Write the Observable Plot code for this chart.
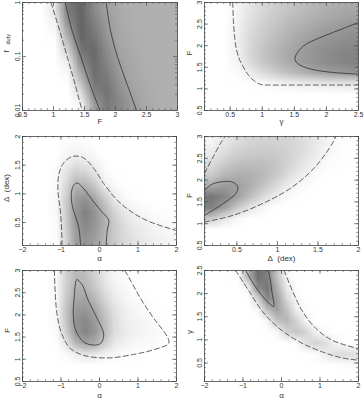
<!DOCTYPE html>
<html><head><meta charset="utf-8">
<script src="https://cdn.jsdelivr.net/npm/d3@7"></script>
<script src="https://cdn.jsdelivr.net/npm/@observablehq/plot@0.6"></script>
<style>
html,body{margin:0;padding:0;background:#fff;}
#chart{position:relative;width:364px;height:400px;overflow:hidden;}
#chart svg{position:absolute;}
</style></head><body><div id="chart"></div>
<script>
// ---------- tick labels ----------
const fTicks = [0.5, 1, 1.5, 2, 2.5, 3];
const gammaTicks = [0.5, 1, 1.5, 2, 2.5];
const alphaTicks = [-2, -1, 0, 1, 2];
const deltaTicks = [0.5, 1, 1.5, 2];
const fdutyTicks = [0.01, 0.1, 1];
const fMinor = d3.range(5, 31).map(i => i / 10);
const gammaMinor = d3.range(1, 26).map(i => i / 10);
const alphaMinor = d3.range(-10, 11).map(i => i / 5);
const deltaMinor = d3.range(1, 21).map(i => i / 10);
const fdutyMinor = [0.02,0.03,0.04,0.05,0.06,0.07,0.08,0.09,0.2,0.3,0.4,0.5,0.6,0.7,0.8,0.9];

// ---------- likelihood grids (row-major, top row first) ----------
// panel 1: F (12 cols, 0.5..3) x f_duty (8 rows, log 1..0.01)
const p1Density = [
 0,0,0.15,0.76,0.88,0.67,0.53,0.48,0.46,0.45,0.45,0.45,
 0,0,0.08,0.65,0.89,0.73,0.57,0.49,0.46,0.45,0.45,0.45,
 0,0,0.02,0.47,0.88,0.79,0.60,0.50,0.47,0.45,0.45,0.45,
 0,0,0,0.27,0.79,0.85,0.66,0.52,0.48,0.46,0.45,0.45,
 0,0,0,0.10,0.64,0.84,0.70,0.55,0.49,0.46,0.45,0.45,
 0,0,0,0.02,0.44,0.82,0.76,0.58,0.50,0.47,0.45,0.45,
 0,0,0,0,0.22,0.72,0.80,0.64,0.53,0.48,0.46,0.45,
 0,0,0,0,0.06,0.56,0.76,0.68,0.56,0.49,0.46,0.45
];
// panel 2: gamma (12 cols, 0.1..2.5) x F (10 rows, 3..0.5)
const p2Density = [
 0,0,0.05,0.15,0.22,0.28,0.33,0.38,0.42,0.45,0.48,0.50,
 0,0,0.06,0.17,0.25,0.31,0.37,0.42,0.46,0.50,0.53,0.55,
 0,0,0.07,0.20,0.28,0.35,0.41,0.47,0.52,0.56,0.59,0.61,
 0,0,0.08,0.22,0.31,0.39,0.46,0.52,0.57,0.61,0.64,0.66,
 0,0,0.08,0.23,0.33,0.41,0.49,0.56,0.61,0.65,0.68,0.70,
 0,0,0.06,0.20,0.31,0.40,0.48,0.56,0.61,0.66,0.69,0.71,
 0,0,0.02,0.10,0.20,0.28,0.36,0.43,0.49,0.54,0.57,0.60,
 0,0,0,0,0.02,0.05,0.07,0.09,0.10,0.12,0.13,0.14,
 0,0,0,0,0,0,0,0,0,0,0,0,
 0,0,0,0,0,0,0,0,0,0,0,0
];
// panel 3: alpha (16 cols, -2..2) x Delta (8 rows, 2..0.1)
const p3Density = [
 0,0,0,0,0.02,0.03,0.02,0,0,0,0,0,0,0,0,0,
 0,0,0,0,0.06,0.10,0.08,0.04,0,0,0,0,0,0,0,0,
 0,0,0,0.02,0.15,0.25,0.22,0.14,0.03,0,0,0,0,0,0,0,
 0,0,0,0.03,0.22,0.42,0.42,0.30,0.10,0.03,0,0,0,0,0,0,
 0,0,0,0.04,0.28,0.55,0.62,0.50,0.30,0.12,0.04,0.01,0,0,0,0,
 0,0,0,0.04,0.30,0.60,0.72,0.62,0.42,0.25,0.13,0.07,0.04,0.02,0.01,0,
 0,0,0,0.03,0.28,0.58,0.68,0.60,0.45,0.30,0.20,0.13,0.09,0.06,0.04,0.03,
 0,0,0,0.02,0.25,0.55,0.62,0.55,0.42,0.30,0.22,0.16,0.12,0.09,0.07,0.05
];
// panel 4: Delta (12 cols, 0.1..2) x F (10 rows, 3..0.5)
const p4Density = [
 0.06,0.13,0.20,0.24,0.26,0.26,0.24,0.20,0.14,0.07,0.02,0,
 0.12,0.20,0.27,0.30,0.31,0.30,0.26,0.20,0.12,0.05,0.01,0,
 0.20,0.30,0.36,0.38,0.37,0.33,0.25,0.16,0.08,0.02,0,0,
 0.30,0.42,0.46,0.45,0.40,0.32,0.20,0.10,0.03,0,0,0,
 0.50,0.58,0.55,0.47,0.35,0.22,0.10,0.03,0,0,0,0,
 0.78,0.70,0.55,0.38,0.22,0.10,0.02,0,0,0,0,0,
 0.72,0.55,0.32,0.15,0.05,0,0,0,0,0,0,0,
 0.30,0.15,0.04,0,0,0,0,0,0,0,0,0,
 0,0,0,0,0,0,0,0,0,0,0,0,
 0,0,0,0,0,0,0,0,0,0,0,0
];
// panel 5: alpha (16 cols, -2..2) x F (10 rows, 3..0.5)
const p5Density = [
 0,0,0,0.03,0.25,0.40,0.38,0.26,0.13,0.05,0.02,0,0,0,0,0,
 0,0,0,0.04,0.27,0.44,0.43,0.31,0.17,0.08,0.04,0.02,0,0,0,0,
 0,0,0,0.04,0.30,0.50,0.52,0.40,0.24,0.12,0.06,0.03,0.01,0,0,0,
 0,0,0,0.04,0.33,0.57,0.60,0.50,0.32,0.17,0.09,0.05,0.03,0.01,0,0,
 0,0,0,0.04,0.33,0.62,0.68,0.58,0.38,0.20,0.11,0.07,0.05,0.03,0.01,0,
 0,0,0,0.03,0.28,0.60,0.70,0.60,0.40,0.20,0.12,0.08,0.06,0.04,0.02,0,
 0,0,0,0.01,0.15,0.42,0.55,0.48,0.30,0.14,0.08,0.05,0.04,0.03,0.01,0,
 0,0,0,0,0.03,0.10,0.15,0.14,0.08,0.04,0.02,0.01,0,0,0,0,
 0,0,0,0,0,0,0,0,0,0,0,0,0,0,0,0,
 0,0,0,0,0,0,0,0,0,0,0,0,0,0,0,0
];
// panel 6: alpha (16 cols, -2..2) x gamma (10 rows, 2.5..0.1)
const p6Density = [
 0,0,0,0.02,0.45,0.82,0.72,0.35,0.05,0,0,0,0,0,0,0,
 0,0,0,0,0.08,0.68,0.78,0.45,0.12,0.01,0,0,0,0,0,0,
 0,0,0,0,0,0.25,0.70,0.55,0.22,0.03,0,0,0,0,0,0,
 0,0,0,0,0,0.04,0.38,0.55,0.35,0.10,0.01,0,0,0,0,0,
 0,0,0,0,0,0,0.05,0.35,0.42,0.25,0.06,0,0,0,0,0,
 0,0,0,0,0,0,0,0.04,0.25,0.33,0.25,0.08,0.01,0,0,0,
 0,0,0,0,0,0,0,0,0,0.02,0.18,0.26,0.20,0.06,0.01,0,
 0,0,0,0,0,0,0,0,0,0,0,0.02,0.10,0.18,0.20,0.18,
 0,0,0,0,0,0,0,0,0,0,0,0,0,0,0.01,0.03,
 0,0,0,0,0,0,0,0,0,0,0,0,0,0,0,0
];

// ---------- contours [x, y] ----------
const p1Dashed = [[[0.96,1],[1.10,0.3],[1.22,0.1],[1.35,0.03],[1.46,0.01]]];
const p1Solid = [
 [[1.19,1],[1.30,0.3],[1.44,0.1],[1.59,0.03],[1.75,0.01]],
 [[1.85,1],[1.92,0.3],[2.03,0.1],[2.19,0.03],[2.34,0.01]]
];
const p2Dashed = [[[0.54,3.0],[0.55,2.6],[0.57,2.2],[0.60,1.9],[0.64,1.7],[0.70,1.52],[0.78,1.33],[0.88,1.18],[0.98,1.10],[1.10,1.09],[1.6,1.09],[2.5,1.09]]];
const p2Solid = [[[2.5,2.54],[2.25,2.39],[1.94,2.21],[1.63,1.98],[1.51,1.71],[1.55,1.59],[1.73,1.47],[2.04,1.39],[2.5,1.34]]];
const p3Dashed = [[[-0.97,0.1],[-1.01,0.66],[-1.08,1.07],[-1.05,1.36],[-0.93,1.54],[-0.71,1.65],[-0.45,1.64],[-0.19,1.48],[0.11,1.18],[0.46,0.89],[0.89,0.66],[1.32,0.51],[2.0,0.36]]];
const p3Solid = [[[-0.49,0.1],[-0.54,0.42],[-0.63,0.62],[-0.71,0.80],[-0.73,1.02],[-0.67,1.15],[-0.58,1.19],[-0.45,1.12],[-0.15,0.86],[0.07,0.68],[0.24,0.54],[0.20,0.36],[0.17,0.1]]];
const p4Dashed = [
 [[0.1,2.16],[0.2,2.51],[0.3,2.85],[0.355,3.0]],
 [[0.1,1.04],[0.45,1.19],[0.86,1.50],[1.19,1.85],[1.47,2.31],[1.68,2.85],[1.72,3.0]]
];
const p4Solid = [[[0.1,1.77],[0.2,1.91],[0.36,1.97],[0.45,1.95],[0.51,1.85],[0.49,1.70],[0.36,1.50],[0.24,1.35],[0.1,1.19]]];
const p5Dashed = [[[-1.17,3.0],[-1.16,2.68],[-1.10,2.0],[-0.97,1.55],[-0.75,1.24],[-0.41,1.09],[0.2,1.03],[0.89,1.11],[1.5,1.24],[1.8,1.36],[1.76,1.51],[1.41,1.92],[1.06,2.38],[0.72,2.91],[0.65,3.0]]];
const p5Solid = [[[-0.58,2.8],[-0.45,2.68],[-0.28,2.30],[-0.06,1.92],[0.11,1.55],[0.03,1.36],[-0.15,1.32],[-0.41,1.39],[-0.62,1.66],[-0.68,2.0],[-0.66,2.38],[-0.61,2.76],[-0.58,2.8]]];
const p6Dashed = [
 [[-1.19,2.5],[-0.84,2.05],[-0.49,1.61],[-0.06,1.25],[0.46,0.96],[1.06,0.74],[1.58,0.61],[2.0,0.56]],
 [[0.07,2.5],[0.29,2.05],[0.55,1.61],[0.89,1.25],[1.32,0.99],[2.0,0.81]]
];
const p6Solid = [[[-0.93,2.5],[-0.71,2.19],[-0.45,1.90],[-0.25,1.74],[-0.20,1.72],[-0.25,2.05],[-0.30,2.34],[-0.34,2.5]]];

// ---------- panel definitions ----------
const panels = [
 {xd:[0.5,3], yd:[0.01,1], ylog:true, gw:12, gh:8, grid:p1Density, xT:fTicks, xm:fMinor, yT:fdutyTicks, ym:fdutyMinor, dashed:p1Dashed, solid:p1Solid, xLabel:"F", yLabel:"f", ySub:"duty"},
 {xd:[0.1,2.5], yd:[0.5,3], gw:12, gh:10, grid:p2Density, xT:gammaTicks, xm:gammaMinor, yT:fTicks, ym:fMinor, dashed:p2Dashed, solid:p2Solid, xLabel:"γ", yLabel:"F"},
 {xd:[-2,2], yd:[0.1,2], gw:16, gh:8, grid:p3Density, xT:alphaTicks, xm:alphaMinor, yT:deltaTicks, ym:deltaMinor, dashed:p3Dashed, solid:p3Solid, xLabel:"α", yLabel:"Δ\u00a0\u00a0(dex)"},
 {xd:[0.1,2], yd:[0.5,3], gw:12, gh:10, grid:p4Density, xT:deltaTicks, xm:deltaMinor, yT:fTicks, ym:fMinor, dashed:p4Dashed, solid:p4Solid, xLabel:"Δ\u00a0\u00a0(dex)", yLabel:"F"},
 {xd:[-2,2], yd:[0.5,3], gw:16, gh:10, grid:p5Density, xT:alphaTicks, xm:alphaMinor, yT:fTicks, ym:fMinor, dashed:p5Dashed, solid:p5Solid, xLabel:"α", yLabel:"F"},
 {xd:[-2,2], yd:[0.1,2.5], gw:16, gh:10, grid:p6Density, xT:alphaTicks, xm:alphaMinor, yT:gammaTicks, ym:gammaMinor, dashed:p6Dashed, solid:p6Solid, xLabel:"α", yLabel:"γ"}
];
const layout = [
 {ox:0, oy:0, h:133, fx:[22,177], fy:[2,110], xlDy:8, ylDx:-16, ylDy:-4},
 {ox:182, oy:0, h:133, fx:[204,358], fy:[2,110], xlDy:8, ylDx:-15, ylDy:-1},
 {ox:0, oy:133, h:133, fx:[22,176], fy:[136,245], xlDy:10, ylDx:-16, ylDy:11},
 {ox:182, oy:133, h:133, fx:[204,358], fy:[136,245], xlDy:10, ylDx:-15, ylDy:7},
 {ox:0, oy:266, h:134, fx:[22,176], fy:[270,381], xlDy:11, ylDx:-15, ylDy:7},
 {ox:182, oy:266, h:134, fx:[204,358], fy:[270,381], xlDy:11, ylDx:-15, ylDy:8}
];

const fmt = d => (d < 0 ? "\u2212" + (-d) : String(d));
const tickColor = "#555";
const chart = document.getElementById("chart");

panels.forEach((p, k) => {
  const L = layout[k];
  const W = 182;
  const fw = L.fx[1] - L.fx[0], fh = L.fy[1] - L.fy[0];
  // the log axis (f_duty) is drawn on a linear scale of log10 values
  const ty = p.ylog ? (v => Math.log10(v)) : (v => v);
  const yFmt = p.ylog ? (v => String(+Math.pow(10, v).toPrecision(1))) : fmt;
  const yd = p.yd.map(ty), yT = p.yT.map(ty), ym = p.ym.map(ty);
  const lineOpts = {x: d => d[0], y: d => ty(d[1]), curve: "catmull-rom", clip: true};
  const marks = [
    Plot.raster(p.grid, {width: p.gw, height: p.gh, x1: p.xd[0], x2: p.xd[1], y1: yd[1], y2: yd[0], fill: d => d}),
    ...p.dashed.map(c => Plot.line(c, {...lineOpts, stroke: "#3a3a3a", strokeWidth: 0.8, strokeDasharray: "5,3"})),
    ...p.solid.map(c => Plot.line(c, {...lineOpts, stroke: "#2e2e2e", strokeWidth: 0.8})),
    Plot.tickX(p.xm, {x: d => d, insetTop: fh - 2, stroke: tickColor, strokeWidth: 0.6}),
    Plot.tickX(p.xm, {x: d => d, insetBottom: fh - 2, stroke: tickColor, strokeWidth: 0.6}),
    Plot.tickX(p.xT, {x: d => d, insetTop: fh - 4, stroke: tickColor, strokeWidth: 0.7}),
    Plot.tickX(p.xT, {x: d => d, insetBottom: fh - 4, stroke: tickColor, strokeWidth: 0.7}),
    Plot.tickY(ym, {y: d => d, insetRight: fw - 2, stroke: tickColor, strokeWidth: 0.6}),
    Plot.tickY(ym, {y: d => d, insetLeft: fw - 2, stroke: tickColor, strokeWidth: 0.6}),
    Plot.tickY(yT, {y: d => d, insetRight: fw - 4, stroke: tickColor, strokeWidth: 0.7}),
    Plot.tickY(yT, {y: d => d, insetLeft: fw - 4, stroke: tickColor, strokeWidth: 0.7}),
    Plot.frame({stroke: "#444", strokeWidth: 0.8}),
    Plot.text([p.xLabel], {text: d => d, frameAnchor: "bottom", lineAnchor: "top", dy: L.xlDy, fontSize: 8, fill: "#333"}),
    Plot.text([p.yLabel], {text: d => d, frameAnchor: "left", rotate: -90, dx: L.ylDx, dy: L.ylDy, fontSize: 8, fill: "#333"})
  ];
  if (p.ySub) {
    marks.push(Plot.text([p.ySub], {text: d => d, frameAnchor: "left", rotate: -90, dx: L.ylDx + 2, dy: L.ylDy - 8, fontSize: 5.5, fill: "#333"}));
  }
  const svg = Plot.plot({
    width: W, height: L.h,
    marginLeft: L.fx[0] - L.ox, marginRight: L.ox + W - L.fx[1],
    marginTop: L.fy[0] - L.oy, marginBottom: L.oy + L.h - L.fy[1],
    style: {fontFamily: "'Liberation Sans', Arial, sans-serif", fontSize: "7px", color: "#333", background: "transparent", overflow: "visible"},
    x: {domain: p.xd, ticks: p.xT, tickSize: 0, tickPadding: 2, tickFormat: fmt, label: null},
    y: {domain: yd, ticks: yT, tickSize: 0, tickPadding: 3, tickRotate: -90, tickFormat: yFmt, label: null},
    color: {type: "linear", domain: [0, 1], range: ["#ffffff", "#505050"]},
    marks
  });
  svg.style.position = "absolute";
  svg.style.left = L.ox + "px";
  svg.style.top = L.oy + "px";
  chart.appendChild(svg);
});
</script></body></html>
